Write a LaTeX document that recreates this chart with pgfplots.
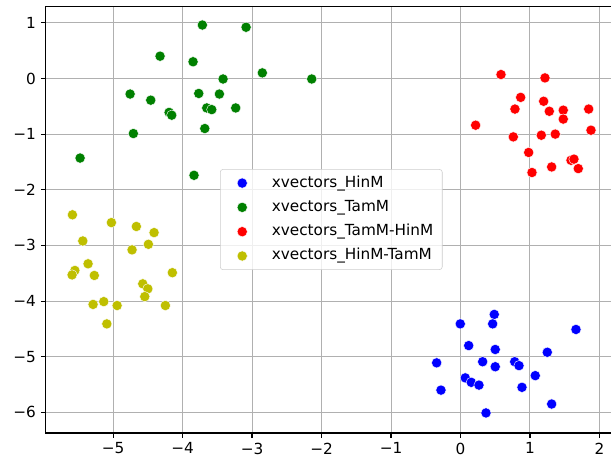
\documentclass[border=0pt]{standalone}
\usepackage{pgfplots}
\pgfplotsset{compat=1.18}
\usepackage{fontspec}
\setmainfont{DejaVu Sans}
\definecolor{mplgreen}{rgb}{0,0.5,0}
\definecolor{mplyellow}{rgb}{0.75,0.75,0}
\definecolor{gridgray}{HTML}{B0B0B0}
\definecolor{leggray}{HTML}{CCCCCC}
\begin{document}
\begin{tikzpicture}
\begin{axis}[
  scale only axis,
  width=411.3pt, height=307.4pt,
  xmin=-5.97, xmax=2.25,
  ymin=-6.37, ymax=1.30,
  xtick={-5,-4,-3,-2,-1,0,1,2},
  xticklabels={−5,−4,−3,−2,−1,0,1,2},
  ytick={-6,-5,-4,-3,-2,-1,0,1},
  yticklabels={−6,−5,−4,−3,−2,−1,0,1},
  tick align=outside,
  major tick length=3.5pt,
  tick style={black, line width=0.8pt},
  xtick pos=bottom, ytick pos=left,
  axis line style={black, line width=0.8pt},
  grid=major,
  major grid style={gridgray, line width=0.7pt},
  tick label style={font=\fontsize{11}{13}\selectfont},
  legend style={at={(0.5,0.5)}, anchor=center, draw=leggray, rounded corners=2pt,
    fill=white, fill opacity=0.8, text opacity=1, font=\fontsize{11}{13}\selectfont,
    row sep=0pt, inner xsep=6.5pt, inner ysep=1.1pt,
    nodes={inner xsep=0pt, inner ysep=3.3pt, text height=8.3pt, text depth=2.6pt}},
  legend cell align=left,
  legend image code/.code={%
    \path (0pt,0pt) (30.2pt,0pt);
    \draw[#1, fill opacity=1, draw opacity=1] plot coordinates {(9.1pt,0pt)};},
  every axis plot/.append style={only marks, mark=*, mark size=3.7pt},
]
\addplot[mark options={draw=white, line width=0.3pt, fill=blue}] coordinates {
(0.486,-4.24) (-0.003,-4.41) (0.463,-4.41) (1.662,-4.51) (0.118,-4.80)
(0.50,-4.87) (1.249,-4.92) (-0.343,-5.11) (0.319,-5.09) (0.50,-5.18)
(0.78,-5.09) (0.842,-5.16) (1.076,-5.34) (0.069,-5.38) (0.155,-5.46)
(0.266,-5.51) (0.885,-5.55) (-0.281,-5.60) (1.312,-5.85) (0.367,-6.01)
};
\addlegendentry{xvectors\_HinM}
\addplot[mark options={draw=white, line width=0.3pt, fill=mplgreen}] coordinates {
(-3.715,0.96) (-3.086,0.92) (-4.324,0.40) (-3.849,0.30) (-2.852,0.10)
(-2.141,-0.01) (-3.417,-0.01) (-4.755,-0.28) (-3.767,-0.27) (-3.47,-0.28)
(-4.458,-0.39) (-4.194,-0.61) (-4.156,-0.66) (-3.652,-0.53) (-3.58,-0.56)
(-3.235,-0.53) (-3.68,-0.90) (-4.708,-0.99) (-5.475,-1.43) (-3.835,-1.74)
};
\addlegendentry{xvectors\_TamM}
\addplot[mark options={draw=white, line width=0.3pt, fill=red}] coordinates {
(0.583,0.07) (1.216,0.01) (0.866,-0.34) (1.197,-0.41) (0.784,-0.55)
(1.278,-0.59) (1.479,-0.57) (1.845,-0.55) (1.479,-0.73) (0.218,-0.84)
(1.878,-0.93) (0.76,-1.05) (1.163,-1.02) (1.364,-1.00) (0.981,-1.33)
(1.59,-1.47) (1.633,-1.45) (1.312,-1.59) (1.695,-1.62) (1.029,-1.69)
};
\addlegendentry{xvectors\_TamM-HinM}
\addplot[mark options={draw=white, line width=0.3pt, fill=mplyellow}] coordinates {
(-5.585,-2.45) (-5.024,-2.59) (-4.665,-2.66) (-4.41,-2.77) (-5.436,-2.92)
(-4.492,-2.98) (-4.727,-3.08) (-5.36,-3.33) (-5.55,-3.45) (-5.59,-3.53)
(-5.27,-3.54) (-4.147,-3.49) (-4.573,-3.69) (-4.50,-3.78) (-4.544,-3.92)
(-5.134,-4.01) (-5.288,-4.06) (-4.942,-4.08) (-4.247,-4.08) (-5.09,-4.41)
};
\addlegendentry{xvectors\_HinM-TamM}
\end{axis}
\pgfresetboundingbox
\useasboundingbox ([xshift=-32.9pt,yshift=-20.2pt]current axis.south west) rectangle ++(440pt,332pt);
\end{tikzpicture}
\end{document}
